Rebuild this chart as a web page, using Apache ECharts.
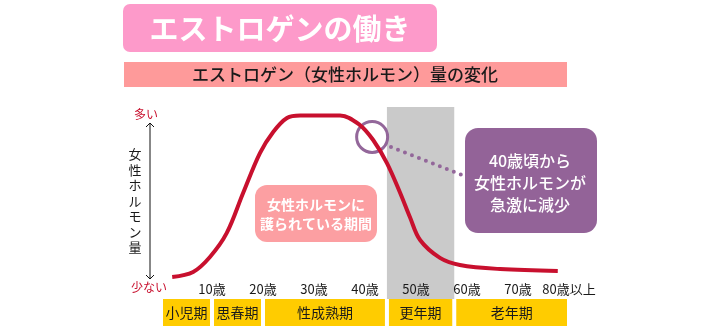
<!DOCTYPE html>
<html>
<head>
<meta charset="utf-8">
<script src="https://cdn.jsdelivr.net/npm/echarts@6/dist/echarts.min.js"></script>
<style>
  html, body { margin: 0; padding: 0; background: #ffffff; }
  #chart { width: 715px; height: 330px; }
</style>
</head>
<body>
<div id="chart"></div>
<script>
// Estrogen level across a woman's life (relative scale, 0 = low, 100 = high)
const ages   = [2.2, 6.3, 9.6, 12.9, 16.1, 19.4, 22.0, 24.7, 27.3, 35.1, 39.0, 41.6, 44.3, 46.9, 48.8, 50.8, 54.7, 58.6, 66.5, 77.8];
const levels = [11.5, 14.1, 21.9, 34.4, 55.2, 76.0, 87.0, 94.3, 95.6, 95.6, 90.6, 82.8, 70.8, 55.2, 42.7, 30.7, 21.4, 17.7, 15.6, 14.6];

// Age ticks along the bottom
const tickAges   = [10, 20, 30, 40, 50, 60, 70, 80];
const tickLabels = ['10歳', '20歳', '30歳', '40歳', '50歳', '60歳', '70歳', '80歳以上'];

// Life stages and the ages where each one begins / ends
const periodNames  = ['小児期', '思春期', '性成熟期', '更年期', '老年期'];
const periodBounds = [0, 10, 20, 44.3, 57.5, 80];
const menopauseIndex = 3;

// Point on the curve where the decline is highlighted
const declineAge = 41.4;
const declineLevel = 84.4;

const FONT = '"Noto Sans CJK JP", "Noto Sans", sans-serif';
const chart = echarts.init(document.getElementById('chart'), null, { renderer: 'canvas' });

const periodData = periodNames.map((name, i) => [periodBounds[i], periodBounds[i + 1], name]);

const option = {
  animation: false,
  backgroundColor: '#ffffff',
  textStyle: { fontFamily: FONT },
  grid: [
    { left: 161, width: 408, top: 107, height: 192 },
    { left: 161, width: 408, top: 299, height: 27 }
  ],
  xAxis: [
    {
      gridIndex: 0, type: 'value', min: 0, max: 80, interval: 10, z: 20,
      axisLine: { show: false }, axisTick: { show: false }, splitLine: { show: false },
      axisLabel: {
        inside: true, margin: 3, color: '#1a1a1a', fontSize: 13, fontFamily: FONT,
        formatter: v => { const i = tickAges.indexOf(v); return i >= 0 ? tickLabels[i] : ''; }
      }
    },
    {
      gridIndex: 1, type: 'value', min: 0, max: 80,
      axisLine: { show: false }, axisTick: { show: false }, splitLine: { show: false },
      axisLabel: { show: false }
    }
  ],
  yAxis: [
    { gridIndex: 0, type: 'value', min: 0, max: 100, show: false },
    { gridIndex: 1, type: 'value', min: 0, max: 1, show: false }
  ],
  series: [
    {
      // menopause band behind everything else
      type: 'line',
      xAxisIndex: 0, yAxisIndex: 0,
      data: [],
      z: 0,
      markArea: {
        silent: true,
        itemStyle: { color: '#cacaca' },
        data: [[{ xAxis: periodBounds[menopauseIndex] }, { xAxis: periodBounds[menopauseIndex + 1] }]]
      }
    },
    {
      type: 'line',
      xAxisIndex: 0, yAxisIndex: 0,
      data: ages.map((a, i) => [a, levels[i]]),
      smooth: 0.35,
      symbol: 'none',
      lineStyle: { color: '#c8102e', width: 4 },
      z: 5,
      markPoint: {
        silent: true,
        symbol: 'circle',
        symbolSize: 31,
        itemStyle: { color: 'rgba(0,0,0,0)', borderColor: '#93679a', borderWidth: 3 },
        label: { show: false },
        data: [{ coord: [declineAge, declineLevel] }]
      }
    },
    {
      type: 'custom',
      xAxisIndex: 1, yAxisIndex: 1,
      data: periodData,
      z: 5,
      renderItem: (params, api) => {
        const p0 = api.coord([api.value(0), 1]);
        const p1 = api.coord([api.value(1), 0]);
        const inset = 2;
        return {
          type: 'rect',
          shape: { x: p0[0] + inset, y: p0[1], width: p1[0] - p0[0] - inset * 2, height: p1[1] - p0[1] },
          style: { fill: '#ffcc00' },
          textContent: {
            style: { text: periodData[params.dataIndex][2], fill: '#1a1a1a', fontSize: 14, fontFamily: FONT }
          },
          textConfig: { position: 'inside' }
        };
      }
    }
  ],
  graphic: [
    // Heading
    { type: 'rect', z: 50, shape: { x: 123, y: 4, width: 314, height: 48, r: 7 }, style: { fill: '#fd9aca' } },
    { type: 'text', z: 51, x: 280, y: 29, style: { text: 'エストロゲンの働き', fill: '#ffffff', font: 'bold 29px ' + FONT, align: 'center', verticalAlign: 'middle' } },
    // Subheading bar
    { type: 'rect', z: 50, shape: { x: 124, y: 62, width: 443, height: 25 }, style: { fill: '#fe9a9a' } },
    { type: 'text', z: 51, x: 345, y: 75, style: { text: 'エストロゲン（女性ホルモン）量の変化', fill: '#1a1a1a', font: '500 17px ' + FONT, align: 'center', verticalAlign: 'middle' } },
    // Vertical amount arrow
    { type: 'line', z: 50, shape: { x1: 150, y1: 123, x2: 150, y2: 279 }, style: { stroke: '#111', lineWidth: 1 } },
    { type: 'polyline', z: 50, shape: { points: [[146, 127], [150, 123], [154, 127]] }, style: { stroke: '#111', lineWidth: 1, fill: null } },
    { type: 'polyline', z: 50, shape: { points: [[146, 275], [150, 279], [154, 275]] }, style: { stroke: '#111', lineWidth: 1, fill: null } },
    { type: 'text', z: 50, x: 146, y: 114, style: { text: '多い', fill: '#c8102e', font: '12px ' + FONT, align: 'center', verticalAlign: 'middle' } },
    { type: 'text', z: 50, x: 149, y: 287, style: { text: '少ない', fill: '#c8102e', font: '12px ' + FONT, align: 'center', verticalAlign: 'middle' } },
    { type: 'text', z: 50, x: 135, y: 201, style: { text: '女\n性\nホ\nル\nモ\nン\n量', fill: '#1a1a1a', font: '13px ' + FONT, lineHeight: 15.5, align: 'center', verticalAlign: 'middle' } },
    // Protected period note
    { type: 'rect', z: 50, shape: { x: 255, y: 185, width: 122, height: 57, r: 12 }, style: { fill: '#fc9fa2' } },
    { type: 'text', z: 51, x: 316, y: 214, style: { text: '女性ホルモンに\n護られている期間', fill: '#ffffff', font: 'bold 14px ' + FONT, lineHeight: 19, align: 'center', verticalAlign: 'middle' } },
    // Decline note with dotted leader
    { type: 'line', z: 50, shape: { x1: 391, y1: 147, x2: 462, y2: 175 }, style: { stroke: '#93679a', lineWidth: 4, lineCap: 'round', lineDash: [0, 7.5] } },
    { type: 'rect', z: 50, shape: { x: 465, y: 128, width: 132, height: 105, r: 13 }, style: { fill: '#936398' } },
    { type: 'text', z: 51, x: 530, y: 183, style: { text: '40歳頃から\n女性ホルモンが\n急激に減少', fill: '#ffffff', font: '500 16px ' + FONT, lineHeight: 22, align: 'center', verticalAlign: 'middle' } }
  ]
};

chart.setOption(option);
</script>
</body>
</html>
